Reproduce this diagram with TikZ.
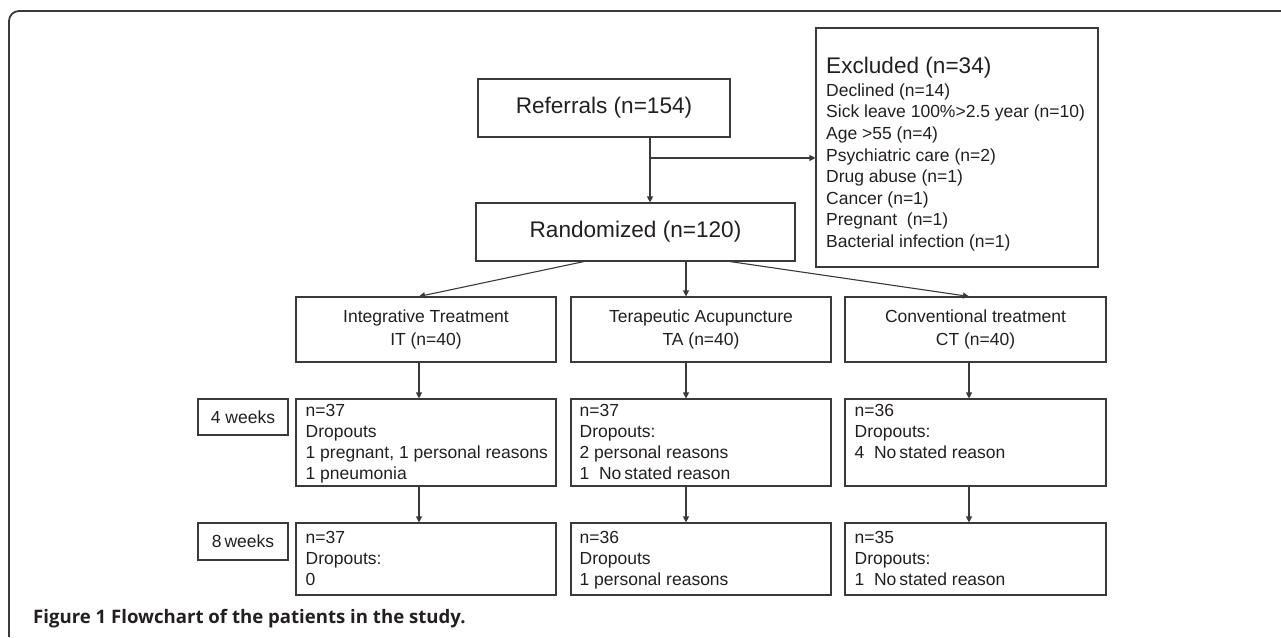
\documentclass[tikz,border=0pt]{standalone}
\usepackage{fontspec}
\setmainfont{Liberation Sans}
\newfontfamily\capfont{Open Sans}
\usetikzlibrary{arrows.meta}
\definecolor{ln}{HTML}{3A3A3A}
\definecolor{tx}{HTML}{231F20}
\begin{document}
\begin{tikzpicture}[x=1pt,y=-1pt,
  box/.style={draw=ln, line width=1.1pt, inner sep=0pt, text=tx, align=center},
  bigf/.style={font=\fontsize{22.6}{27}\selectfont},
  midf/.style={font=\fontsize{17.5}{22.7}\selectfont},
  txt/.style={text=tx, inner sep=0pt, align=left, anchor=north west, font=\fontsize{17.5}{21}\selectfont},
  arr/.style={draw=ln, line width=1.1pt, -{Triangle[length=6pt,width=6pt]}},
]
\useasboundingbox (0,0) rectangle (1281,637);
% frame
\draw[ln, line width=1.8pt, rounded corners=10pt] (9,637) -- (9,11) -- (1281,11);

% main boxes
\node[box, bigf, minimum width=252pt, minimum height=58pt] (ref) at (604,108) {Referrals (n=154)};
\node[box, bigf, minimum width=319pt, minimum height=58pt] (rand) at (635.5,232) {Randomized (n=120)};
\node[box, minimum width=282pt, minimum height=239pt] (excl) at (957,147.5) {};
\node[text=tx, inner sep=0pt, anchor=base west, bigf] (exclT) at (826,73) {Excluded (n=34)};
\node[txt, font=\fontsize{17.5}{21.6}\selectfont] (exclL) at (826,83.4) {Declined (n=14)\\Sick leave 100\%>2.5 year (n=10)\\Age >55 (n=4)\\Psychiatric care (n=2)\\Drug abuse (n=1)\\Cancer (n=1)\\Pregnant\ \ (n=1)\\Bacterial infection (n=1)};

% treatment boxes
\node[box, midf, minimum width=260pt, minimum height=65pt] (it) at (426,329.5) {Integrative Treatment\\IT (n=40)};
\node[box, midf, minimum width=260pt, minimum height=65pt] (ta) at (701,329.5) {Terapeutic Acupuncture\\TA (n=40)};
\node[box, midf, minimum width=261pt, minimum height=65pt] (ct) at (975.5,329.5) {Conventional treatment\\CT (n=40)};

% week labels
\node[box, midf, minimum width=90pt, minimum height=36pt] (w4) at (243,417) {4 weeks};
\node[box, midf, minimum width=90pt, minimum height=37pt] (w8) at (243,541.5) {8\hspace{3pt}weeks};

% 4 week boxes
\node[box, minimum width=260pt, minimum height=87pt] (it4) at (426,442.5) {};
\node[box, minimum width=260pt, minimum height=87pt] (ta4) at (701,442.5) {};
\node[box, minimum width=261pt, minimum height=87pt] (ct4) at (975.5,442.5) {};
\node[txt] (it4t) at ([shift={(10,5.8)}]it4.north west) {n=37\\Dropouts\\1 pregnant, 1 personal reasons\\1 pneumonia};
\node[txt] (ta4t) at ([shift={(9,5.8)}]ta4.north west) {n=37\\Dropouts:\\2 personal reasons\\1\ \ No\,stated reason};
\node[txt] (ct4t) at ([shift={(10,5.8)}]ct4.north west) {n=36\\Dropouts:\\4\ \ No\,stated reason};

% 8 week boxes
\node[box, minimum width=260pt, minimum height=72pt] (it8) at (426,559) {};
\node[box, minimum width=260pt, minimum height=72pt] (ta8) at (701,559) {};
\node[box, minimum width=261pt, minimum height=72pt] (ct8) at (975.5,559) {};
\node[txt] (it8t) at ([shift={(10,8.5)}]it8.north west) {n=37\\Dropouts:\\0};
\node[txt] (ta8t) at ([shift={(9,8.5)}]ta8.north west) {n=36\\Dropouts\\1 personal reasons};
\node[txt] (ct8t) at ([shift={(10,8.5)}]ct8.north west) {n=35\\Dropouts:\\1\ \ No\,stated reason};

% caption
\node[text=tx, inner sep=0pt, anchor=base west, font={\capfont\fontsize{18.6}{22}\selectfont\bfseries}] (cap) at (33,623) {Figure 1 Flowchart of the patients in the study.};

% column coordinates
\coordinate (c0) at (650,0);
\coordinate (c1) at (419,0);
\coordinate (c2) at (686,0);
\coordinate (c3) at (969,0);
\coordinate (s1) at (584,0);
\coordinate (s3) at (730,0);
\coordinate (br) at (650,158);

% connectors
\draw[arr] (ref.south -| c0) -- (rand.north -| c0);
\draw[arr] (br) -- (br -| excl.west);
\draw[arr] (rand.south -| s1) -- (it.north -| c1);
\draw[arr] (rand.south -| c2) -- (ta.north -| c2);
\draw[arr] (rand.south -| s3) -- (ct.north -| c3);
\draw[arr] (it.south -| c1) -- (it4.north -| c1);
\draw[arr] (ta.south -| c2) -- (ta4.north -| c2);
\draw[arr] (ct.south -| c3) -- (ct4.north -| c3);
\draw[arr] (it4.south -| c1) -- (it8.north -| c1);
\draw[arr] (ta4.south -| c2) -- (ta8.north -| c2);
\draw[arr] (ct4.south -| c3) -- (ct8.north -| c3);
\end{tikzpicture}
\end{document}
